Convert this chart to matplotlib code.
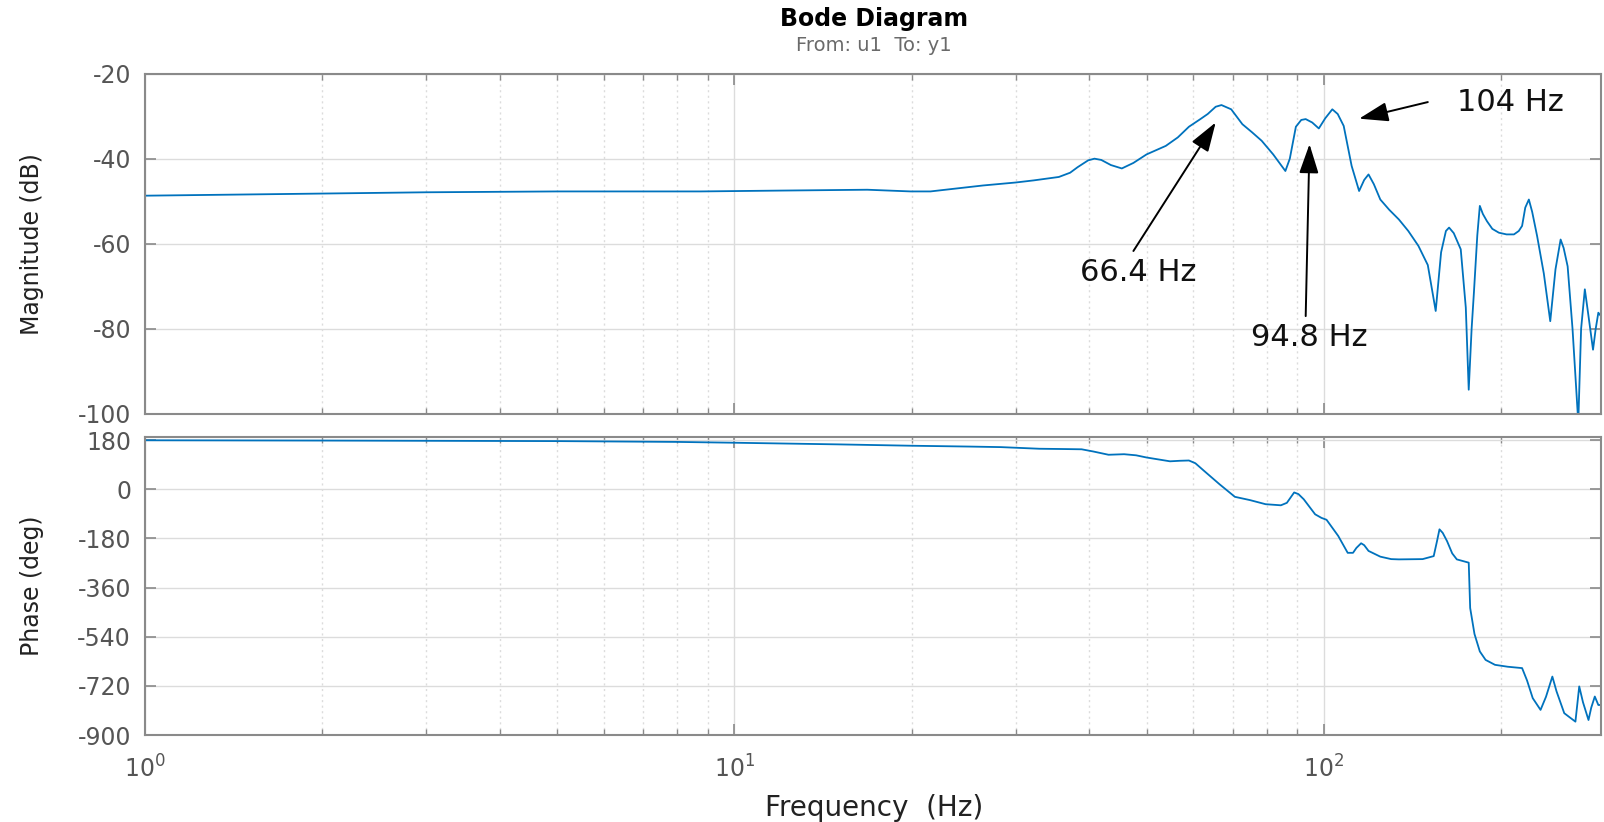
import matplotlib
matplotlib.use("Agg")
import matplotlib.pyplot as plt
from matplotlib.ticker import LogLocator, FixedLocator, NullFormatter

plt.rcParams['font.family'] = ['DejaVu Sans']
plt.rcParams['axes.unicode_minus'] = False
plt.rcParams['mathtext.fontset'] = 'dejavusans'

# ---------------- data ----------------
mag_freq = [1, 2, 3, 5, 8.75, 12, 16.8, 19.9, 21.5, 26.4, 30, 32.2, 35.5, 37.1,
            38.2, 39.8, 40.8, 41.9, 43.5, 45.4, 47.5, 50, 53.9, 56.5, 59, 61.7,
            63.5, 65.5, 67, 69.6, 72.7, 75.5, 78.4, 82, 86, 87.5, 89.6, 91.5,
            93.1, 95.5, 98, 100.5, 103.3, 105.5, 108, 111.4, 114.7, 117, 119,
            121.5, 124.6, 129, 134, 139, 144.6, 150, 154.7, 158, 161, 163, 166,
            170.6, 174, 176, 178, 179.6, 182, 183.8, 186, 189, 193, 198, 204,
            210, 214, 216.8, 219.5, 222.6, 225.5, 229.9, 236, 242, 247, 252,
            255, 259, 264, 270, 273, 277, 281, 286, 289, 292, 295]
mag_db = [-48.7, -48.2, -47.9, -47.7, -47.7, -47.5, -47.3, -47.7, -47.7, -46.3,
          -45.6, -45.1, -44.3, -43.3, -42.0, -40.4, -40.0, -40.3, -41.5, -42.3,
          -41.0, -39.0, -37.0, -35.0, -32.5, -30.7, -29.5, -27.8, -27.4, -28.4,
          -31.9, -33.8, -35.8, -39.0, -42.9, -40.0, -32.5, -30.9, -30.7, -31.5,
          -32.9, -30.5, -28.4, -29.5, -32.3, -41.7, -47.6, -45.0, -43.7, -46.0,
          -49.6, -52.0, -54.3, -57.0, -60.5, -65.0, -75.8, -62.0, -57.0, -56.2,
          -57.5, -61.3, -75.0, -94.3, -80.0, -71.5, -58.0, -51.1, -53.0, -54.7,
          -56.5, -57.4, -57.8, -57.8, -57.0, -55.8, -51.5, -49.6, -52.5, -58.2,
          -67.0, -78.2, -66.0, -59.0, -61.0, -65.3, -80.0, -102.0, -80.0, -70.7,
          -77.0, -84.9, -80.0, -76.2, -77.0]

ph_freq = [1, 2, 5, 8, 10, 15, 20, 25, 28.3, 32.9, 36, 38.8, 40.6, 43.1, 45.8,
           48, 50, 54.8, 57, 59, 60.5, 62.6, 66.5, 70.6, 74.9, 79.6, 84.5,
           86.5, 89, 90.5, 92.4, 96.6, 99, 101, 105.7, 109.7, 112, 113.5, 115.6,
           117, 119, 124.6, 130, 134, 147, 153.5, 155.5, 157, 159, 161.7, 165,
           168, 176, 177, 180, 183.8, 188, 195, 205, 216.8, 221, 226, 233, 238,
           244, 248, 255.6, 261, 267, 271, 275, 281, 284, 288, 292, 295]
ph_deg = [179, 178, 176, 173, 170, 164, 159, 156, 154, 148, 147, 146, 138, 126,
          128, 124, 116, 102, 104, 105, 95, 67, 18, -28, -40, -55, -59, -50,
          -12, -18, -37, -92, -105, -112, -171, -233, -233, -215, -198, -205,
          -226, -247, -256, -257, -256, -245, -190, -147, -160, -190, -235,
          -257, -269, -435, -530, -594, -625, -643, -650, -655, -700, -765,
          -808, -760, -686, -740, -820, -835, -851, -722, -780, -845, -800,
          -759, -790, -790]

mag_ticks = [-20, -40, -60, -80, -100]
ph_ticks = [180, 0, -180, -360, -540, -720, -900]
x_ticks = [1, 10, 100]

# annotations: label, text position, arrow tail, arrow tip (freq, dB)
ann_labels = ['66.4 Hz', '94.8 Hz', '104 Hz']
ann_text_xy = [(48.4, -66.8), (94.5, -82.1), (207, -26.8)]
ann_tail_xy = [(47.5, -61.7), (93.1, -77.0), (150, -26.7)]
ann_tip_xy = [(65.5, -31.5), (94.5, -36.6), (114.7, -30.6)]

# ---------------- styling ----------------
LINE = '#0072BD'
SPINE = '#8a8a8a'
TICKLBL = '#555555'
GRID = '#dcdcdc'

fig = plt.figure(figsize=(16.04, 8.22), dpi=100)
ax1 = fig.add_axes([0.0904, 0.4964, 0.9077, 0.4141])
ax2 = fig.add_axes([0.0904, 0.1058, 0.9077, 0.3629], sharex=ax1)

ax1.plot(mag_freq, mag_db, color=LINE, lw=1.3)
ax2.plot(ph_freq, ph_deg, color=LINE, lw=1.3)

for ax in (ax1, ax2):
    ax.set_xscale('log')
    ax.set_xlim(1, 295)
    for s in ax.spines.values():
        s.set_color(SPINE)
        s.set_linewidth(1.5)
    ax.xaxis.set_major_locator(FixedLocator(x_ticks))
    ax.xaxis.set_minor_locator(LogLocator(base=10, subs=range(2, 10)))
    ax.xaxis.set_minor_formatter(NullFormatter())
    ax.tick_params(which='both', direction='in', top=True, right=True,
                   color=SPINE, labelcolor=TICKLBL, labelsize=17)
    ax.tick_params(which='major', length=8, width=1.2)
    ax.tick_params(which='minor', length=4.5, width=1.0)
    ax.tick_params(axis='y', which='major', pad=10)
    ax.tick_params(axis='x', which='major', pad=14.5)
    ax.grid(True, which='major', color=GRID, lw=1.0, ls='-')
    ax.grid(True, which='minor', axis='x', color=GRID, lw=1.0, ls=(0, (1.5, 2.5)))
    ax.set_axisbelow(True)

ax1.set_ylim(-100, -20)
ax1.set_yticks(mag_ticks)
ax1.tick_params(axis='x', labelbottom=False)

ax2.set_ylim(-900, 192)
ax2.set_yticks(ph_ticks)

ax1.set_ylabel('Magnitude (dB)', fontsize=17, color='#222222')
ax2.set_ylabel('Phase (deg)', fontsize=17, color='#222222')
ax1.yaxis.set_label_coords(-0.0695, 0.5)
ax2.yaxis.set_label_coords(-0.0695, 0.5)

fig.text(0.545, 0.017, 'Frequency  (Hz)', fontsize=20, color='#222222',
         ha='center', va='center')
fig.text(0.545, 0.977, 'Bode Diagram', fontsize=17, fontweight='bold',
         color='black', ha='center', va='center')
fig.text(0.545, 0.945, 'From: u1  To: y1', fontsize=14, color='#6a6a6a',
         ha='center', va='center')

for lbl, txy, tail, tip in zip(ann_labels, ann_text_xy, ann_tail_xy, ann_tip_xy):
    ax1.annotate('', xy=tip, xytext=tail,
                 arrowprops=dict(arrowstyle='-|>,head_length=0.6,head_width=0.2',
                                 color='black', lw=1.4,
                                 mutation_scale=30, shrinkA=0, shrinkB=0))
    ax1.text(txy[0], txy[1], lbl, fontsize=22, color='#111111',
             ha='center', va='center')

fig.savefig('out.png', dpi=100)
